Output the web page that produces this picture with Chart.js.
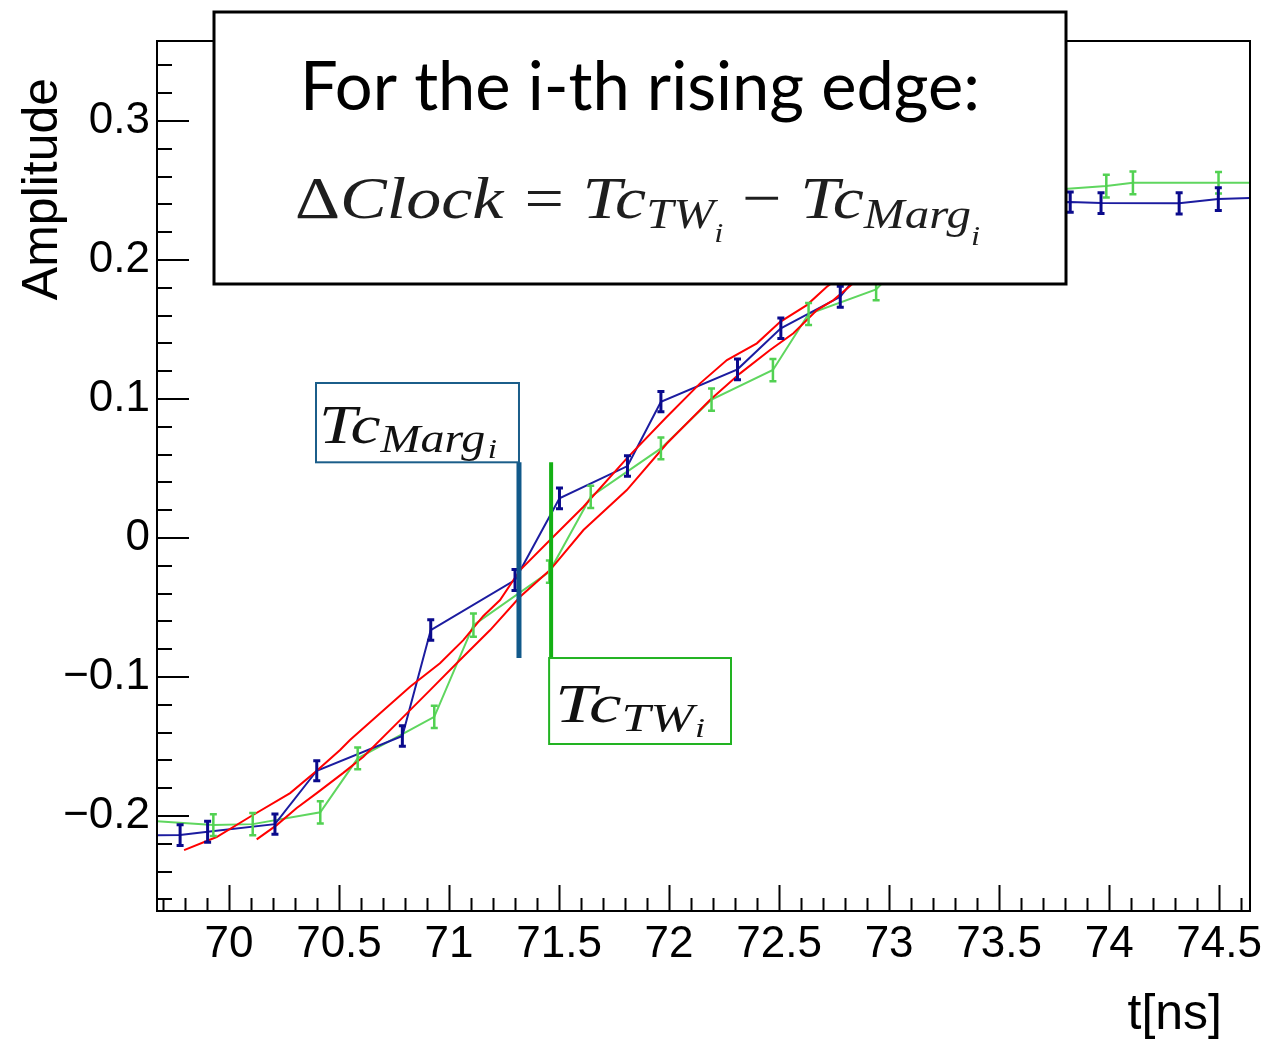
<!DOCTYPE html>
<html>
<head>
<meta charset="utf-8">
<script src="https://cdn.jsdelivr.net/npm/chart.js@4.4.1/dist/chart.umd.min.js"></script>
<style>
  html, body { margin: 0; padding: 0; background: #ffffff; }
  canvas { display: block; }
</style>
</head>
<body>
<canvas id="c" width="1279" height="1041"></canvas>
<script>
// ---------------- data ----------------
const xTickValues = [70, 70.5, 71, 71.5, 72, 72.5, 73, 73.5, 74, 74.5];
const xTickLabels = ['70', '70.5', '71', '71.5', '72', '72.5', '73', '73.5', '74', '74.5'];
const yTickValues = [-0.2, -0.1, 0, 0.1, 0.2, 0.3];
const yTickLabels = ['\u22120.2', '\u22120.1', '0', '0.1', '0.2', '0.3'];

// blue waveform (with error bars)
const blueX = [69.55, 69.778, 69.903, 70.209, 70.399, 70.788, 70.917, 71.300, 71.502, 71.811, 71.963, 72.311, 72.508, 72.778,
               72.95, 73.12, 73.33, 73.52, 73.68, 73.823, 73.963, 74.318, 74.496, 74.70];
const blueY = [-0.2140, -0.2137, -0.2113, -0.2058, -0.1674, -0.1424, -0.0662, -0.0302, 0.0286, 0.0518, 0.0981, 0.1214, 0.1509, 0.1736,
               0.208, 0.226, 0.236, 0.240, 0.2415, 0.2417, 0.2410, 0.2408, 0.2439, 0.2450];
const blueErr = [0.0075, 0.0075, 0.0075, 0.0073, 0.0072, 0.0074, 0.0074, 0.0076, 0.0075, 0.0074, 0.0073, 0.0075, 0.0074, 0.0075,
                 0.0075, 0.0075, 0.0075, 0.0075, 0.0075, 0.0073, 0.0075, 0.0077, 0.0082, 0.0075];

// green waveform (with error bars)
const greenX = [69.55, 69.929, 70.108, 70.415, 70.585, 70.933, 71.111, 71.456, 71.644, 71.963, 72.193, 72.472, 72.634, 72.941,
                73.10, 73.28, 73.48, 73.70, 73.987, 74.108, 74.497, 74.70];
const greenY = [-0.2025, -0.2065, -0.2058, -0.1973, -0.1585, -0.1286, -0.0626, -0.0242, 0.0297, 0.0645, 0.0996, 0.1209, 0.1612, 0.1789,
                0.205, 0.228, 0.242, 0.2500, 0.2532, 0.2556, 0.2556, 0.2556];
const greenErr = [0.008, 0.0078, 0.008, 0.008, 0.0078, 0.008, 0.0084, 0.008, 0.008, 0.0078, 0.008, 0.008, 0.008, 0.0078,
                  0.008, 0.008, 0.008, 0.008, 0.0082, 0.0082, 0.0078, 0.008];

// red fits
const fitAX = [69.796, 69.944, 70.096, 70.278, 70.399, 70.505, 70.550, 70.687, 70.823, 70.959, 71.065, 71.156, 71.232, 71.323,
               71.474, 71.611, 71.808, 71.990, 72.141, 72.263, 72.399, 72.505, 72.626, 72.717, 72.823, 72.900];
const fitAY = [-0.2245, -0.2151, -0.2005, -0.1835, -0.1674, -0.1525, -0.1453, -0.1261, -0.1070, -0.0901, -0.0734, -0.0560, -0.0446, -0.0230,
               0.0009, 0.0225, 0.0573, 0.0873, 0.1113, 0.1281, 0.1401, 0.1556, 0.1676, 0.1808, 0.1928, 0.2030];
const fitBX = [70.126, 70.217, 70.308, 70.399, 70.518, 70.611, 70.763, 70.914, 71.035, 71.187, 71.323, 71.459, 71.611, 71.808,
               71.990, 72.186, 72.323, 72.459, 72.565, 72.672, 72.747, 72.838, 72.936];
const fitBY = [-0.2168, -0.2065, -0.1942, -0.1835, -0.1691, -0.1573, -0.1333, -0.1094, -0.0901, -0.0662, -0.0422, -0.0230, 0.0058, 0.0345,
               0.0680, 0.0993, 0.1185, 0.1353, 0.1473, 0.1640, 0.1712, 0.1835, 0.1942];

// timing markers (x in ns, y range in amplitude)
const markerMargX = 71.318;
const markerTWX = 71.464;
const markerYTop = 0.0545;
const markerYBottom = -0.0863;

// ---------------- helpers ----------------
const toPts = (xs, ys) => xs.map((x, i) => ({ x: x, y: ys[i] }));

function drawMath(ctx, parts, x, baseline, targetWidth, color) {
  const widths = parts.map(p => { ctx.font = p.font; return ctx.measureText(p.t).width; });
  let total = 0;
  parts.forEach((p, i) => { total += (p.gap || 0) + widths[i]; });
  const sx = targetWidth ? targetWidth / total : 1;
  ctx.save();
  ctx.translate(x, baseline);
  ctx.scale(sx, 1);
  ctx.fillStyle = color;
  ctx.textAlign = 'left';
  ctx.textBaseline = 'alphabetic';
  let cx = 0;
  parts.forEach((p, i) => {
    cx += (p.gap || 0);
    ctx.font = p.font;
    ctx.fillText(p.t, cx, p.dy || 0);
    cx += widths[i];
  });
  ctx.restore();
}

const SERIF = '"Liberation Serif", "DejaVu Serif", serif';

const rootPlugin = {
  id: 'rootStyle',
  afterDatasetsDraw(chart) {
    const { ctx, chartArea: a, scales: { x, y } } = chart;
    ctx.save();
    ctx.beginPath();
    ctx.rect(a.left, a.top, a.right - a.left, a.bottom - a.top);
    ctx.clip();
    const bars = (xs, ys, es, color, lw) => {
      ctx.strokeStyle = color;
      ctx.lineWidth = lw;
      ctx.lineCap = 'butt';
      xs.forEach((xv, i) => {
        const px = x.getPixelForValue(xv);
        const p1 = y.getPixelForValue(ys[i] + es[i]);
        const p2 = y.getPixelForValue(ys[i] - es[i]);
        ctx.beginPath();
        ctx.moveTo(px, p1); ctx.lineTo(px, p2);
        ctx.moveTo(px - 3.5, p1); ctx.lineTo(px + 3.5, p1);
        ctx.moveTo(px - 3.5, p2); ctx.lineTo(px + 3.5, p2);
        ctx.stroke();
      });
    };
    bars(greenX, greenY, greenErr, '#52d152', 2.5);
    bars(blueX, blueY, blueErr, '#0a0a8c', 3);
    ctx.restore();
  },
  afterDraw(chart) {
    const { ctx, chartArea: a, scales: { x, y } } = chart;
    ctx.save();
    // frame
    ctx.strokeStyle = '#000';
    ctx.lineWidth = 2;
    ctx.strokeRect(a.left, a.top, a.right - a.left, a.bottom - a.top);
    // x ticks (inward)
    ctx.lineWidth = 2;
    ctx.beginPath();
    for (let k = 697; k <= 746; k++) {
      const px = Math.round(x.getPixelForValue(k / 10)) + 0.5;
      const len = (k % 5 === 0) ? 26 : 13;
      ctx.moveTo(px, a.bottom);
      ctx.lineTo(px, a.bottom - len);
    }
    // y ticks (inward)
    for (let k = -13; k <= 17; k++) {
      const py = Math.round(y.getPixelForValue(k * 0.02));
      const len = (k % 5 === 0) ? 32 : 15;
      ctx.moveTo(a.left, py);
      ctx.lineTo(a.left + len, py);
    }
    ctx.stroke();

    // timing marker lines
    const mTop = y.getPixelForValue(markerYTop);
    const mBot = y.getPixelForValue(markerYBottom);
    const xm = x.getPixelForValue(markerMargX);
    const xt = x.getPixelForValue(markerTWX);
    ctx.lineCap = 'butt';
    ctx.strokeStyle = '#11598a';
    ctx.lineWidth = 5;
    ctx.beginPath(); ctx.moveTo(xm, mTop); ctx.lineTo(xm, mBot); ctx.stroke();
    ctx.strokeStyle = '#14b014';
    ctx.lineWidth = 4;
    ctx.beginPath(); ctx.moveTo(xt, mTop); ctx.lineTo(xt, mBot); ctx.stroke();

    // Marg label box
    const bx1 = 316, by1 = 383, bx2 = xm, by2 = mTop;
    ctx.fillStyle = '#fff';
    ctx.fillRect(bx1, by1, bx2 - bx1, by2 - by1);
    ctx.strokeStyle = '#1b5e8a';
    ctx.lineWidth = 2;
    ctx.strokeRect(bx1, by1, bx2 - bx1, by2 - by1);
    drawMath(ctx, [
      { t: 'Tc', font: 'italic 55px ' + SERIF },
      { t: 'Marg', font: 'italic 39px ' + SERIF, dy: 9 },
      { t: 'i', font: 'italic 27px ' + SERIF, dy: 15, gap: 2 }
    ], 319, 443, 178, '#111');

    // TW label box
    const gx1 = xt - 2, gy1 = mBot, gx2 = 731, gy2 = 744;
    ctx.fillStyle = '#fff';
    ctx.fillRect(gx1, gy1, gx2 - gx1, gy2 - gy1);
    ctx.strokeStyle = '#22b322';
    ctx.lineWidth = 2;
    ctx.strokeRect(gx1, gy1, gx2 - gx1, gy2 - gy1);
    drawMath(ctx, [
      { t: 'Tc', font: 'italic 55px ' + SERIF },
      { t: 'TW', font: 'italic 39px ' + SERIF, dy: 9 },
      { t: 'i', font: 'italic 27px ' + SERIF, dy: 15, gap: 1 }
    ], 555, 722, 150, '#111');

    // big text box
    ctx.fillStyle = '#fff';
    ctx.fillRect(214, 12, 852, 272);
    ctx.strokeStyle = '#000';
    ctx.lineWidth = 3;
    ctx.strokeRect(214, 12, 852, 272);
    drawMath(ctx, [
      { t: 'For the i-th rising edge:', font: '67px Lato, "Liberation Sans", sans-serif' }
    ], 300, 110, 680, '#000');
    drawMath(ctx, [
      { t: '\u0394', font: '60px ' + SERIF },
      { t: 'Clock', font: 'italic 60px ' + SERIF },
      { t: '=', font: '60px ' + SERIF, gap: 18 },
      { t: 'Tc', font: 'italic 60px ' + SERIF, gap: 16 },
      { t: 'TW', font: 'italic 42px ' + SERIF, dy: 10 },
      { t: 'i', font: 'italic 28px ' + SERIF, dy: 24 },
      { t: '\u2212', font: '60px ' + SERIF, gap: 16 },
      { t: 'Tc', font: 'italic 60px ' + SERIF, gap: 16 },
      { t: 'Marg', font: 'italic 42px ' + SERIF, dy: 10 },
      { t: 'i', font: 'italic 28px ' + SERIF, dy: 27 }
    ], 295, 218, 685, '#1e1e1e');

    // axis titles
    ctx.fillStyle = '#000';
    ctx.font = '50px "Liberation Sans", Arial, sans-serif';
    ctx.textBaseline = 'alphabetic';
    ctx.save();
    ctx.translate(57, 189);
    ctx.rotate(-Math.PI / 2);
    ctx.textAlign = 'center';
    ctx.fillText('Amplitude', 0, 0);
    ctx.restore();
    ctx.textAlign = 'right';
    ctx.fillText('t[ns]', 1222, 1029);
    ctx.restore();
  }
};

const tickFont = { family: '"Liberation Sans", Arial, sans-serif', size: 44 };

new Chart(document.getElementById('c'), {
  type: 'scatter',
  data: {
    datasets: [
      { label: 'fitA', data: toPts(fitAX, fitAY), showLine: true, borderColor: '#ff0000', borderWidth: 2, pointRadius: 0, order: 1 },
      { label: 'fitB', data: toPts(fitBX, fitBY), showLine: true, borderColor: '#ff0000', borderWidth: 2, pointRadius: 0, order: 1 },
      { label: 'blue', data: toPts(blueX, blueY), showLine: true, borderColor: '#1c1ca0', borderWidth: 2, pointRadius: 0, order: 2 },
      { label: 'green', data: toPts(greenX, greenY), showLine: true, borderColor: '#5fd65f', borderWidth: 2, pointRadius: 0, order: 3 }
    ]
  },
  options: {
    responsive: false,
    animation: false,
    devicePixelRatio: 1,
    layout: { padding: { top: 41, right: 29, left: 0, bottom: 0 } },
    plugins: { legend: { display: false }, tooltip: { enabled: false } },
    scales: {
      x: {
        type: 'linear',
        min: 69.673,
        max: 74.64,
        afterBuildTicks: (s) => { s.ticks = xTickValues.map(v => ({ value: v })); },
        afterFit: (s) => { s.height = 130; },
        grid: { display: false, drawTicks: false },
        border: { display: false },
        ticks: {
          autoSkip: false, maxRotation: 0, minRotation: 0, padding: 7,
          color: '#000', font: tickFont,
          callback: (v) => { const i = xTickValues.indexOf(v); return i >= 0 ? xTickLabels[i] : ''; }
        }
      },
      y: {
        type: 'linear',
        min: -0.2683,
        max: 0.3576,
        afterBuildTicks: (s) => { s.ticks = yTickValues.map(v => ({ value: v })); },
        afterFit: (s) => { s.width = 157; },
        grid: { display: false, drawTicks: false },
        border: { display: false },
        ticks: {
          autoSkip: false, padding: 7,
          color: '#000', font: tickFont,
          callback: (v) => { const i = yTickValues.indexOf(v); return i >= 0 ? yTickLabels[i] : ''; }
        }
      }
    }
  },
  plugins: [rootPlugin]
});
</script>
</body>
</html>
